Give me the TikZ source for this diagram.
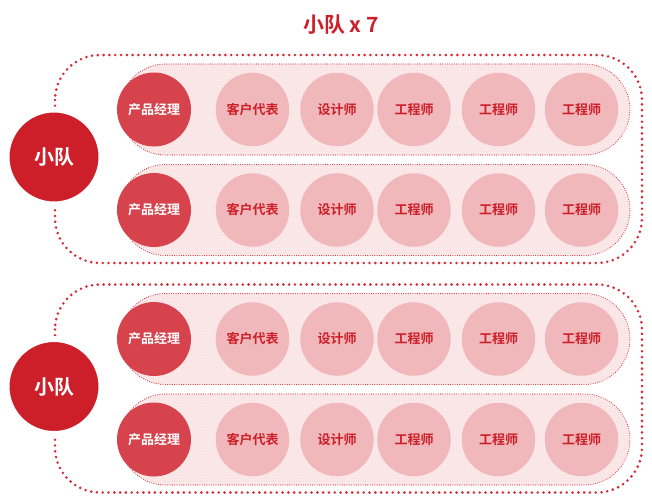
\documentclass[tikz,border=0pt]{standalone}
\usepackage{fontspec}
\usepackage{xcolor}
\newfontfamily\cjkb{Noto Sans CJK SC Bold}
\usetikzlibrary{patterns}

\definecolor{teamred}{HTML}{CD1F2A}
\definecolor{pmred}{HTML}{D6434C}
\definecolor{rolepink}{HTML}{F0B8BA}
\definecolor{lanepink}{HTML}{FBE8E9}
\definecolor{dotred}{HTML}{D42B35}

\tikzset{
  teamnode/.style={circle, fill=teamred, draw=white, line width=6pt, minimum size=95pt,
    inner sep=0pt, text=white, font=\cjkb\fontsize{20}{20}\selectfont},
  pmnode/.style={circle, fill=pmred, minimum size=74pt, inner sep=0pt, text=white,
    font=\cjkb\fontsize{13}{13}\selectfont},
  rolenode/.style={circle, fill=rolepink, minimum size=73.5pt, inner sep=0pt, text=teamred,
    font=\cjkb\fontsize{13}{13}\selectfont},
  frameline/.style={dotred, line width=2.9pt, line cap=round, dash pattern=on 0pt off 5.8pt,
    rounded corners=45pt},
  laneline/.style={dotred, line width=1.1pt, line cap=round, dash pattern=on 0pt off 2.3pt,
    preaction={fill=lanepink}, pattern=dots, pattern color=rolepink!55!lanepink,
    rounded corners=45.5pt}
}

\begin{document}
\begin{tikzpicture}[x=1pt,y=-1pt]
\useasboundingbox (0,0) rectangle (652,499);
\node[text=teamred, font=\cjkb\fontsize{21}{21}\selectfont] (title) at (341,25) {小队 x 7};
% two teams, each with two lanes
\foreach \g/\oy in {1/0,2/229.5} {
  \draw[frameline] (55,55+\oy) rectangle (642,263+\oy);
  \foreach \r/\ry in {1/109.5,2/210} {
    \draw[laneline] (120,\ry+\oy-45.5) rectangle (630,\ry+\oy+45.5);
    \node[pmnode] (pm\g\r) at (154,\ry+\oy) {产品经理};
    \node[rolenode] (kh\g\r) at (252.5,\ry+\oy) {客户代表};
    \node[rolenode] (sj\g\r) at (337,\ry+\oy) {设计师};
    \node[rolenode] (gca\g\r) at (414,\ry+\oy) {工程师};
    \node[rolenode] (gcb\g\r) at (498.5,\ry+\oy) {工程师};
    \node[rolenode] (gcc\g\r) at (581.5,\ry+\oy) {工程师};
  }
  \node[teamnode] (team\g) at (54,157+\oy) {小队};
}
\end{tikzpicture}
\end{document}
